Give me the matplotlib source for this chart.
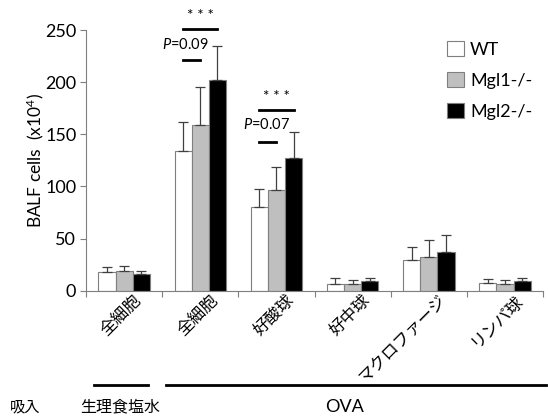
import numpy as np
import matplotlib
matplotlib.use("Agg")
import matplotlib.pyplot as plt
from matplotlib.patches import Patch
import matplotlib.transforms as mtransforms

plt.rcParams['font.family'] = ['Lato', 'Noto Sans CJK JP', 'DejaVu Sans']
plt.rcParams['mathtext.fontset'] = 'custom'
plt.rcParams['mathtext.it'] = 'Lato:italic'
plt.rcParams['mathtext.rm'] = 'Lato'

categories = ['全細胞', '全細胞', '好酸球', '好中球', 'マクロファージ', 'リンパ球']
groups = ['WT', 'Mgl1-/-', 'Mgl2-/-']
wt_mean = [17.5, 134.5, 80, 6.5, 29, 7.5]
wt_err = [5, 27.5, 18, 6, 13, 4]
mgl1_mean = [19, 158.5, 96.5, 6, 32.5, 6]
mgl1_err = [4.5, 36.5, 22, 4, 16.5, 4.5]
mgl2_mean = [16.5, 202.5, 127.5, 9, 37, 9]
mgl2_err = [2, 32, 25, 3, 16.5, 3.5]

fig = plt.figure(figsize=(5.48, 4.18), dpi=100)
ax = fig.add_axes([0.157, 0.3045, 0.834, 0.6235])

x = np.arange(len(categories))
w = 0.225
edge = '#7f7f7f'
colors = ['white', '#bfbfbf', 'black']
means = [wt_mean, mgl1_mean, mgl2_mean]
errs = [wt_err, mgl1_err, mgl2_err]
for i in range(3):
    ax.bar(x + (i - 1) * w, means[i], w, color=colors[i], edgecolor=edge,
           linewidth=0.8, label=groups[i],
           yerr=[np.zeros(len(x)), errs[i]], capsize=3.5,
           error_kw=dict(ecolor='#404040', elinewidth=0.9, capthick=0.9))

ax.set_xlim(-0.5, len(categories) - 0.5)
ax.set_ylim(0, 250)
ax.set_yticks([0, 50, 100, 150, 200, 250])
ax.tick_params(axis='y', labelsize=13, length=4, color=edge, pad=3)
ax.set_xticks(np.arange(len(categories) + 1) - 0.5)
ax.set_xticklabels([])
ax.tick_params(axis='x', length=4, color=edge, direction='out')
for s in ['top', 'right']:
    ax.spines[s].set_visible(False)
for s in ['left', 'bottom']:
    ax.spines[s].set_color(edge)
ax.set_ylabel('BALF cells  (x10$^{4}$)', fontsize=12.5, labelpad=-1)

# rotated category labels
off = mtransforms.ScaledTranslation(15 / 100, -7 / 100, fig.dpi_scale_trans)
for xi, lab in zip(x, categories):
    ax.text(xi, 0, lab, transform=ax.transData + off, rotation=45,
            rotation_mode='anchor', ha='right', va='center', fontsize=12,
            family=['Noto Sans CJK JP'])

# significance marks
ax.plot([1 - w, 1 + w], [251, 251], color='black', lw=2, clip_on=False)
ax.text(1, 264, '* * *', ha='center', va='center', fontsize=11, clip_on=False)
ax.plot([1 - w, 1], [221, 221], color='black', lw=2)
ax.text(0.5, 236, '$P$=0.09', ha='left', va='center', fontsize=10.5)
ax.plot([2 - w, 2 + w], [173, 173], color='black', lw=2)
ax.text(2, 186, '* * *', ha='center', va='center', fontsize=11)
ax.plot([2 - w, 2], [143, 143], color='black', lw=2)
ax.text(1.56, 159, '$P$=0.07', ha='left', va='center', fontsize=10.5)

handles = [Patch(facecolor=c, edgecolor=edge, linewidth=0.8) for c in colors]
ax.legend(handles, groups, loc='upper right', bbox_to_anchor=(1.012, 1.02),
          frameon=False, fontsize=13, handlelength=0.9, handleheight=0.9,
          handletextpad=0.35, labelspacing=0.8)

# bottom group labels
fig.text(10 / 548, 1 - 407 / 418, '吸入', fontsize=11, va='center',
         family=['Noto Sans CJK JP'])
fig.text(120 / 548, 1 - 407 / 418, '生理食塩水', fontsize=11.5, va='center',
         ha='center', family=['Noto Sans CJK JP'])
fig.text(345 / 548, 1 - 407 / 418, 'OVA', fontsize=13, va='center',
         ha='center')
fig.add_artist(plt.Line2D([94 / 548, 148 / 548], [1 - 385 / 418] * 2,
                          color='black', lw=2))
fig.add_artist(plt.Line2D([166 / 548, 546 / 548], [1 - 385 / 418] * 2,
                          color='black', lw=2))

fig.savefig('out.png', dpi=100)
